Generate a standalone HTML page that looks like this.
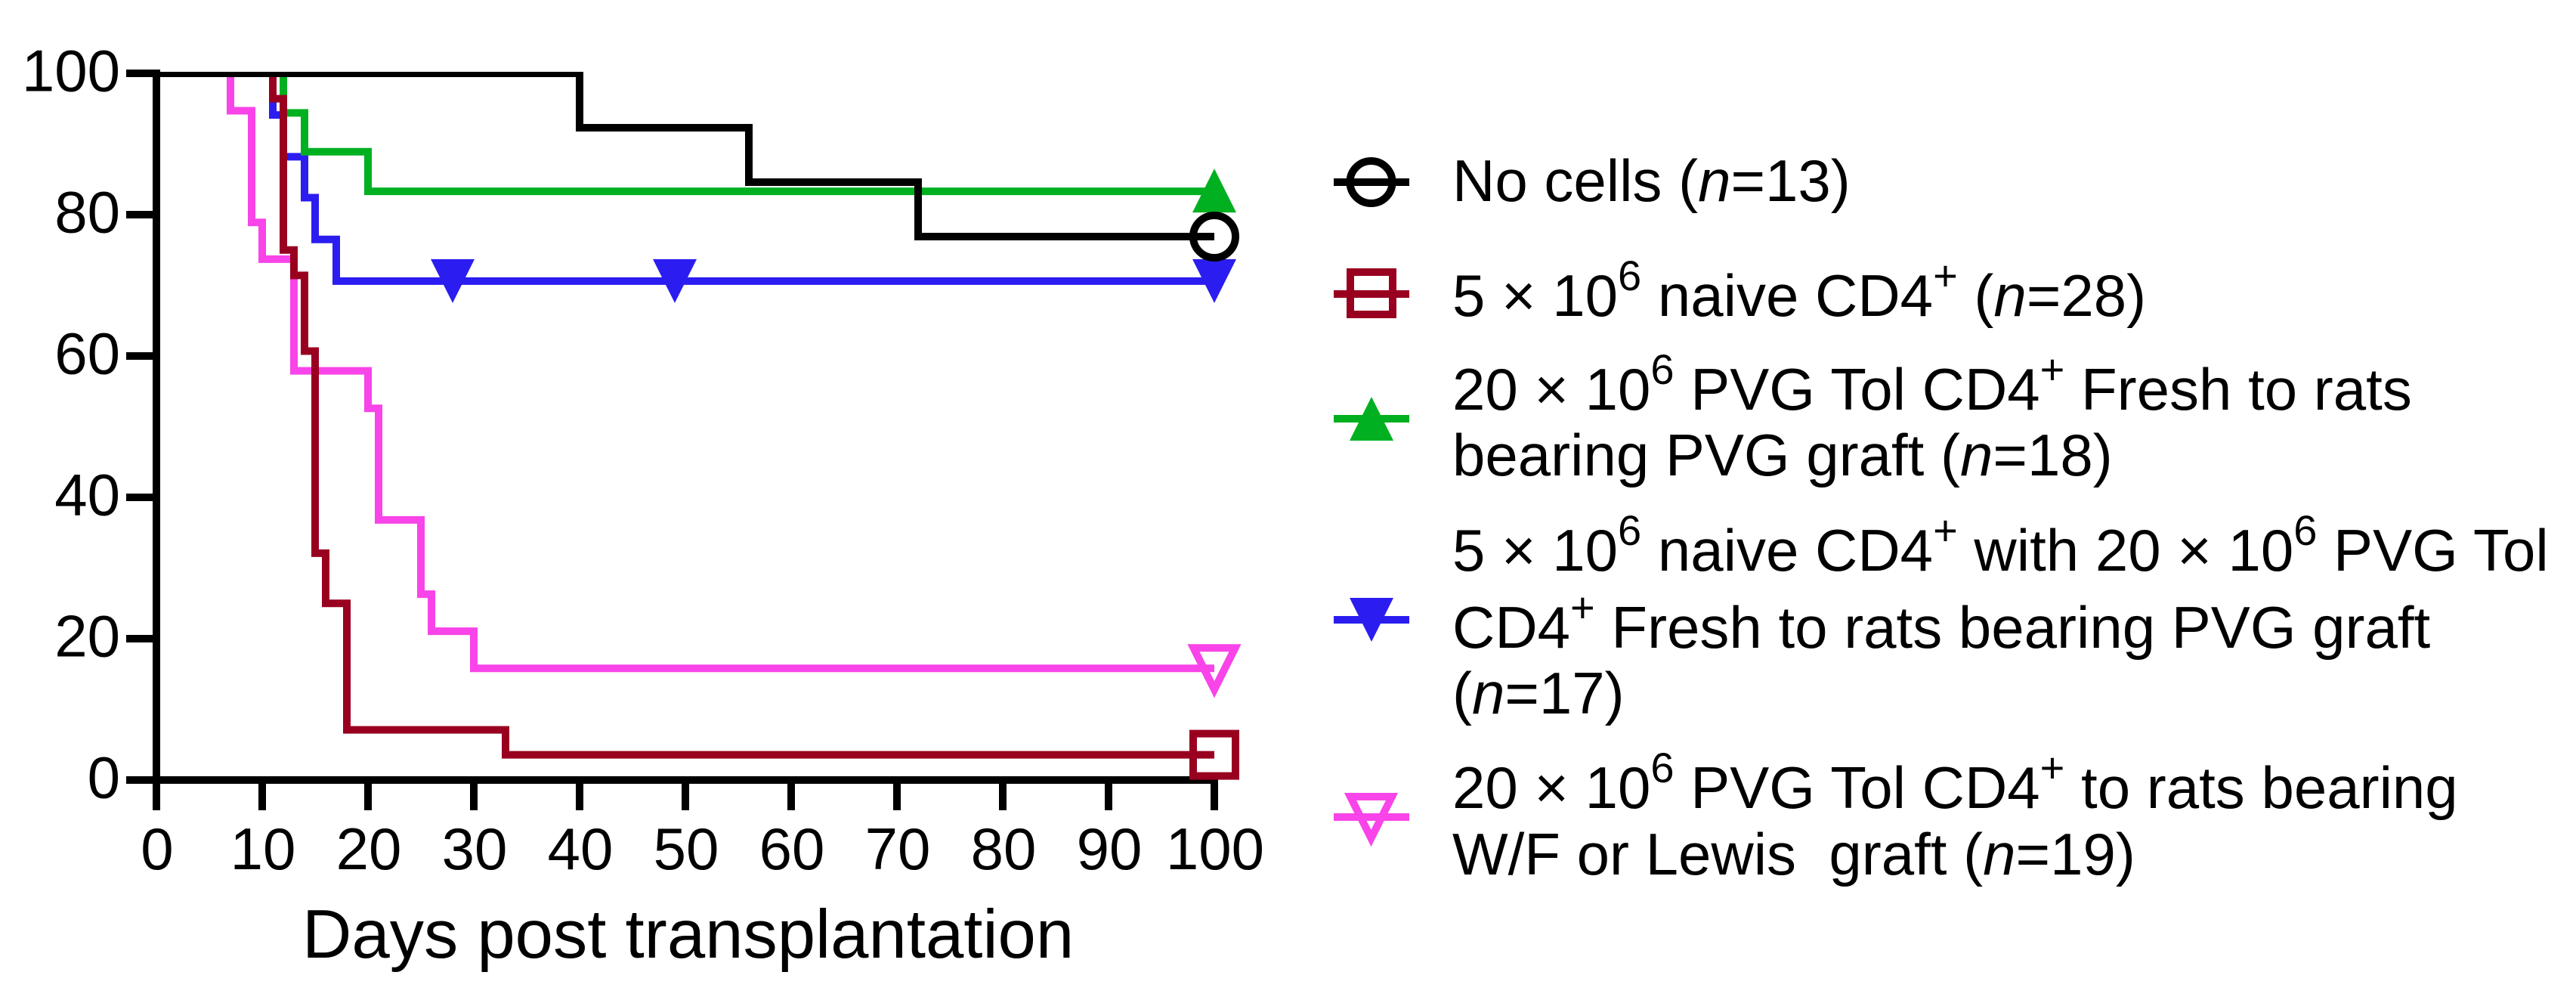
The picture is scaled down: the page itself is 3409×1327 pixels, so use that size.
<!DOCTYPE html>
<html lang="en">
<head>
<meta charset="utf-8">
<title>Survival curves: days post transplantation</title>
<style>
html,body{margin:0;padding:0;background:#fff;width:3409px;height:1327px;overflow:hidden}
svg{display:block}
text{font-family:"Liberation Sans",Arial,sans-serif;fill:#000;white-space:pre}
.leg{font-size:78px}
.sup{font-size:56px}
.it{font-style:italic}
</style>
</head>
<body>
<svg id="chart" xmlns="http://www.w3.org/2000/svg" width="3409" height="1327" viewBox="0 0 3409 1327">
  <defs>
    <clipPath id="plot-clip"><rect x="0" y="95" width="3409" height="1232"/></clipPath>
  </defs>
  <rect x="0" y="0" width="3409" height="1327" fill="#fff"/>
  <g id="axes"></g>
  <g id="series" clip-path="url(#plot-clip)"></g>
  <g id="markers"></g>
  <text x="400" y="1267" font-size="90.5">Days post transplantation</text>

  <g id="legend-keys"></g>

  <g>
    <text class="leg" x="1922" y="266">No cells (<tspan class="it">n</tspan>=13)</text>
    <text class="leg" x="1922" y="418">5 × 10<tspan class="sup" dy="-34">6</tspan><tspan dy="34"> naive CD4</tspan><tspan class="sup" dy="-34">+</tspan><tspan dy="34"> (</tspan><tspan class="it">n</tspan>=28)</text>
    <text class="leg" x="1922" y="542">20 × 10<tspan class="sup" dy="-34">6</tspan><tspan dy="34"> PVG Tol CD4</tspan><tspan class="sup" dy="-34">+</tspan><tspan dy="34"> Fresh to rats</tspan></text>
    <text class="leg" x="1922" y="629">bearing PVG graft (<tspan class="it">n</tspan>=18)</text>
    <text class="leg" x="1922" y="755">5 × 10<tspan class="sup" dy="-34">6</tspan><tspan dy="34"> naive CD4</tspan><tspan class="sup" dy="-34">+</tspan><tspan dy="34"> with 20 × 10</tspan><tspan class="sup" dy="-34">6</tspan><tspan dy="34"> PVG Tol</tspan></text>
    <text class="leg" x="1922" y="857">CD4<tspan class="sup" dy="-34">+</tspan><tspan dy="34"> Fresh to rats bearing PVG graft</tspan></text>
    <text class="leg" x="1922" y="944">(<tspan class="it">n</tspan>=17)</text>
    <text class="leg" x="1922" y="1069">20 × 10<tspan class="sup" dy="-34">6</tspan><tspan dy="34"> PVG Tol CD4</tspan><tspan class="sup" dy="-34">+</tspan><tspan dy="34"> to rats bearing</tspan></text>
    <text class="leg" x="1922" y="1157">W/F or Lewis  graft (<tspan class="it">n</tspan>=19)</text>
  </g>
</svg>
<script>
// ---- Chart data ----
const xTickLabels = [0, 10, 20, 30, 40, 50, 60, 70, 80, 90, 100];
const yTickLabels = [0, 20, 40, 60, 80, 100];

const noCellsDays = [0, 40, 56, 72, 100];
const noCellsValues = [100, 92.3, 84.6, 76.9, 76.9];

const naiveDays = [0, 11, 12, 13, 14, 15, 16, 18, 33, 100];
const naiveValues = [100, 96.4, 75, 71.4, 60.7, 32.1, 25, 7.1, 3.57, 3.57];

const pvgFreshDays = [0, 12, 14, 20, 100];
const pvgFreshValues = [100, 94.4, 88.9, 83.3, 83.3];

const combinedDays = [0, 11, 12, 14, 15, 17, 100];
const combinedValues = [100, 94.1, 88.2, 82.4, 76.5, 70.6, 70.6];
const combinedCensorDays = [28, 49, 100];

const wfLewisDays = [0, 7, 9, 10, 13, 20, 21, 25, 26, 30, 100];
const wfLewisValues = [100, 94.7, 78.9, 73.7, 57.9, 52.6, 36.8, 26.3, 21.05, 15.8, 15.8];

// ---- Axis functions ----
const xScale = d => 207 + 14 * d;
const yScale = v => 1032 - 9.35 * v;

const NS = 'http://www.w3.org/2000/svg';
const BLACK = '#000000', RED = '#990020', GREEN = '#00B020', BLUE = '#2B1DF0', MAGENTA = '#F844E8';

function make(tag, attrs, parent) {
  const el = document.createElementNS(NS, tag);
  for (const k in attrs) el.setAttribute(k, attrs[k]);
  parent.appendChild(el);
  return el;
}

// ---- Axes ----
const axes = document.getElementById('axes');
const yAxisLine = make('rect', {x: 202, y: 92, width: 10, height: 980, fill: BLACK}, axes);


const xAxisLine = make('rect', {x: 167, y: yScale(0) - 5, width: xScale(100) + 5 - 167, height: 10, fill: BLACK}, axes);



yTickLabels.forEach(v => {
  const tick = make('rect', {x: 167, y: yScale(v) - 5, width: 40, height: 10, fill: BLACK}, axes);
  
  
  const label = make('text', {x: 159, y: yScale(v) + 23.5, 'text-anchor': 'end', 'font-size': 78}, axes);
  
  
  label.textContent = String(v);
});

xTickLabels.forEach(d => {
  const tick = make('rect', {x: xScale(d) - 5, y: 1032, width: 10, height: 40, fill: BLACK}, axes);
  
  
  const label = make('text', {x: xScale(d) + 1, y: 1150, 'text-anchor': 'middle', 'font-size': 78}, axes);
  
  
  label.textContent = String(d);
});

// ---- Step lines ----
function stepPath(days, values) {
  let p = 'M' + xScale(days[0]) + ' ' + yScale(values[0]);
  for (let i = 1; i < days.length; i++) {
    p += 'H' + xScale(days[i]);
    p += 'V' + yScale(values[i]);
  }
  return p;
}
function drawLine(days, values, color) {
  return make('path', {
    d: stepPath(days, values), fill: 'none', stroke: color, 'stroke-width': 10,
    'stroke-linejoin': 'miter', 'stroke-linecap': 'butt'
  }, document.getElementById('series'));
}
const lineCombined = drawLine(combinedDays, combinedValues, BLUE);


const linePvg = drawLine(pvgFreshDays, pvgFreshValues, GREEN);


const lineWf = drawLine(wfLewisDays, wfLewisValues, MAGENTA);


const lineNaive = drawLine(naiveDays, naiveValues, RED);


const lineNoCells = drawLine(noCellsDays, noCellsValues, BLACK);



// ---- Marker shapes ----
function triUp(cx, cy, color, parent) {
  return make('polygon', {points: [cx-29,cy+28, cx+29,cy+28, cx,cy-30].join(' '), fill: color}, parent);
}
function triDown(cx, cy, color, parent) {
  return make('polygon', {points: [cx-29,cy-29, cx+29,cy-29, cx,cy+29].join(' '), fill: color}, parent);
}
function openTri(cx, cy, color, parent) {
  return make('polygon', {points: [cx-27.5,cy-27, cx+27.5,cy-27, cx,cy+28].join(' '),
    fill: 'none', stroke: color, 'stroke-width': 10, 'stroke-linejoin': 'miter', 'stroke-miterlimit': 10}, parent);
}
function square(cx, cy, color, parent) {
  return make('rect', {x: cx-28, y: cy-28, width: 56, height: 56, fill: 'none', stroke: color, 'stroke-width': 10}, parent);
}
function circle(cx, cy, color, parent) {
  return make('circle', {cx: cx, cy: cy, r: 28, fill: 'none', stroke: color, 'stroke-width': 10}, parent);
}

// ---- Markers on the plot ----
const markers = document.getElementById('markers');
const lastOf = a => a[a.length - 1];
const xEnd = xScale(lastOf(noCellsDays));

combinedCensorDays.forEach(d => {
  const m = triDown(xScale(d), yScale(lastOf(combinedValues)), BLUE, markers);
  
  
});
const mPvg = triUp(xScale(lastOf(pvgFreshDays)), yScale(lastOf(pvgFreshValues)), GREEN, markers);


const mWf = openTri(xScale(lastOf(wfLewisDays)), yScale(lastOf(wfLewisValues)), MAGENTA, markers);


const mNaive = square(xScale(lastOf(naiveDays)), yScale(lastOf(naiveValues)), RED, markers);


const mNoCells = circle(xEnd, yScale(lastOf(noCellsValues)), BLACK, markers);



// ---- Legend keys ----
const keys = document.getElementById('legend-keys');
function keyLine(cy, color) {
  return make('rect', {x: 1765, y: cy - 5, width: 100, height: 10, fill: color}, keys);
}
const k1 = keyLine(241, BLACK);


const k1m = circle(1814.5, 241, BLACK, keys);


const k2 = keyLine(389, RED);


const k2m = square(1815, 388, RED, keys);


const k3 = keyLine(554, GREEN);


const k3m = triUp(1815, 555, GREEN, keys);


const k4 = keyLine(820, BLUE);


const k4m = triDown(1815, 820, BLUE, keys);


const k5 = keyLine(1081, MAGENTA);


const k5m = openTri(1814.5, 1081, MAGENTA, keys);


</script>
</body>
</html>
